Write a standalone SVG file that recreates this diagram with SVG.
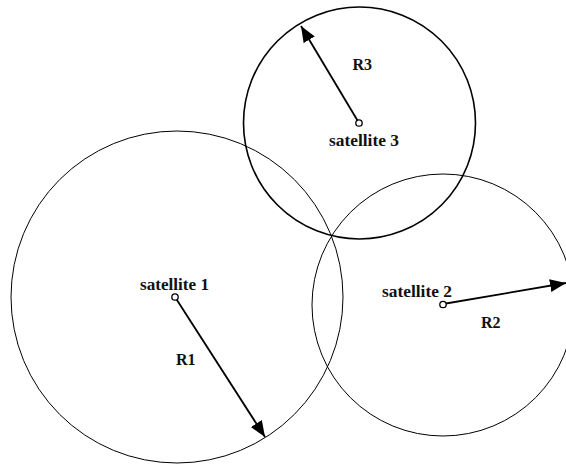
<svg xmlns="http://www.w3.org/2000/svg" width="566" height="465" viewBox="0 0 566 465">
<style>
.ring{fill:none;stroke:#000;stroke-width:1}
.ring3{fill:none;stroke:#000;stroke-width:1.6}
.dot{fill:#fff;stroke:#000;stroke-width:1.3}
.arr{stroke:#000;stroke-width:1.8;fill:none;marker-end:url(#ah)}
.lbl{font-family:'Liberation Serif','Times New Roman','DejaVu Serif',serif;font-size:16px;font-weight:bold;fill:#111}
</style>
<defs>
<marker id="ah" markerUnits="userSpaceOnUse" markerWidth="17" markerHeight="14" refX="16" refY="6.5" orient="auto">
<path d="M0,0 L16,6.5 L0,13 Z" fill="#000"/>
</marker>
</defs>
<rect width="566" height="465" fill="#fff"/>
<g id="satellite1">
<circle class="ring" cx="177" cy="297" r="166"/>
</g>
<g id="satellite2">
<circle class="ring" cx="443" cy="305" r="131"/>
</g>
<g id="satellite3">
<circle class="ring3" cx="359.5" cy="123" r="116"/>
</g>
<g id="connectors">
<line class="arr" x1="175" y1="297" x2="265" y2="437"/>
<line class="arr" x1="443" y1="304" x2="566" y2="283"/>
<line class="arr" x1="359" y1="123" x2="301" y2="26"/>
</g>
<g id="labels">
<circle class="dot" cx="175" cy="297" r="3.2"/>
<circle class="dot" cx="443" cy="304.5" r="3.2"/>
<circle class="dot" cx="359" cy="123" r="3.2"/>
<text class="lbl" x="140" y="290" textLength="69" lengthAdjust="spacingAndGlyphs">satellite 1</text>
<text class="lbl" x="382" y="297" textLength="70" lengthAdjust="spacingAndGlyphs">satellite 2</text>
<text class="lbl" x="329" y="146" textLength="70" lengthAdjust="spacingAndGlyphs">satellite 3</text>
<text class="lbl" x="176" y="365">R1</text>
<text class="lbl" x="481" y="328">R2</text>
<text class="lbl" x="352.5" y="70">R3</text>
</g>
</svg>
